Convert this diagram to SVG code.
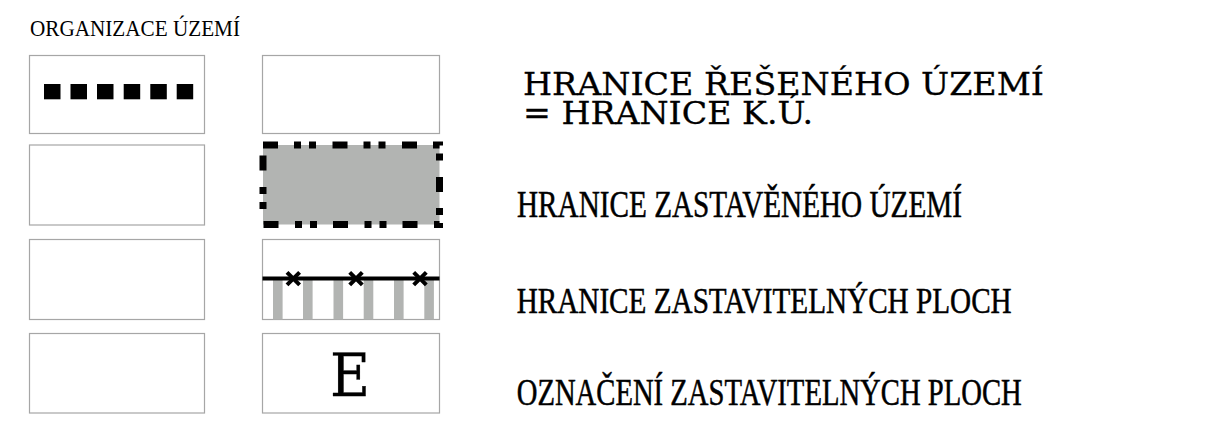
<svg xmlns="http://www.w3.org/2000/svg" width="1214" height="431" viewBox="0 0 1214 431">
  <style>
    .box { fill: #ffffff; stroke: #a6a6a6; stroke-width: 1.2; }
    .lbl { font-family: "Liberation Serif", "Times New Roman", serif; fill: #000; stroke: #000; stroke-width: 0.5; }
    .lbl1 { font-family: "DejaVu Serif", "Liberation Serif", serif; fill: #000; stroke: #000; stroke-width: 0.3; }
    .sq { fill: #000; }
    .bar { fill: #b2b4b2; }
    .xm { stroke: #000; stroke-width: 4; stroke-linecap: butt; }
  </style>
  <rect x="0" y="0" width="1214" height="431" fill="#ffffff"/>
  <text id="title" x="30" y="35.7" font-family="Liberation Serif, serif" font-size="23.5" fill="#000" textLength="210" lengthAdjust="spacingAndGlyphs">ORGANIZACE ÚZEMÍ</text>

  <g id="row1">
    <rect class="box" x="29.5" y="55.5" width="175" height="78"/>
    <rect class="box" x="262.5" y="55.5" width="177" height="78"/>
    <rect class="sq" x="44" y="84" width="16.5" height="15.3"/>
    <rect class="sq" x="70.5" y="84" width="16.5" height="15.3"/>
    <rect class="sq" x="97" y="84" width="16.5" height="15.3"/>
    <rect class="sq" x="123.7" y="84" width="16.5" height="15.3"/>
    <rect class="sq" x="150.3" y="84" width="16.5" height="15.3"/>
    <rect class="sq" x="176.7" y="84" width="16.5" height="15.3"/>
    <text class="lbl1" x="523" y="95" font-size="32" textLength="521" lengthAdjust="spacingAndGlyphs">HRANICE ŘEŠENÉHO ÚZEMÍ</text>
    <text class="lbl1" x="523" y="124.3" font-size="32" textLength="290" lengthAdjust="spacingAndGlyphs">= HRANICE K.Ú.</text>
  </g>

  <g id="row2">
    <rect class="box" x="29.5" y="145" width="175" height="80"/>
    <rect x="263" y="145" width="176.5" height="79.5" fill="#b2b4b2" stroke="#000" stroke-width="7" stroke-dasharray="15 16 7 8 7 16.5"/>
    <text class="lbl" x="517" y="216.7" font-size="37" textLength="445" lengthAdjust="spacingAndGlyphs">HRANICE ZASTAVĚNÉHO ÚZEMÍ</text>
  </g>

  <g id="row3">
    <rect class="box" x="29.5" y="239.5" width="175" height="80"/>
    <rect class="box" x="262.5" y="239.5" width="177" height="80"/>
    <rect class="bar" x="273" y="279" width="9.6" height="40.5"/>
    <rect class="bar" x="303" y="279" width="9.6" height="40.5"/>
    <rect class="bar" x="333.5" y="279" width="9.6" height="40.5"/>
    <rect class="bar" x="363.7" y="279" width="9.6" height="40.5"/>
    <rect class="bar" x="394" y="279" width="9.6" height="40.5"/>
    <rect class="bar" x="424.3" y="279" width="9.6" height="40.5"/>
    <line x1="262.5" y1="278.6" x2="439.5" y2="278.6" stroke="#000" stroke-width="4"/>
    <path class="xm" d="M287 272.3 L299.6 284.9 M299.6 272.3 L287 284.9"/>
    <path class="xm" d="M349.7 272.3 L362.3 284.9 M362.3 272.3 L349.7 284.9"/>
    <path class="xm" d="M413.7 272.3 L426.3 284.9 M426.3 272.3 L413.7 284.9"/>
    <text class="lbl" x="516.7" y="313.3" font-size="36" textLength="495" lengthAdjust="spacingAndGlyphs">HRANICE ZASTAVITELNÝCH PLOCH</text>
  </g>

  <g id="row4">
    <rect class="box" x="29.5" y="333.5" width="175" height="79.5"/>
    <rect class="box" x="262.5" y="333.5" width="177" height="79.5"/>
    <text class="lbl1" x="330" y="396" font-size="59" stroke-width="0.8" textLength="40" lengthAdjust="spacingAndGlyphs">E</text>
    <text class="lbl" x="516.7" y="405" font-size="37" textLength="505" lengthAdjust="spacingAndGlyphs">OZNAČENÍ ZASTAVITELNÝCH PLOCH</text>
  </g>

  <g id="connectors"></g>
</svg>
